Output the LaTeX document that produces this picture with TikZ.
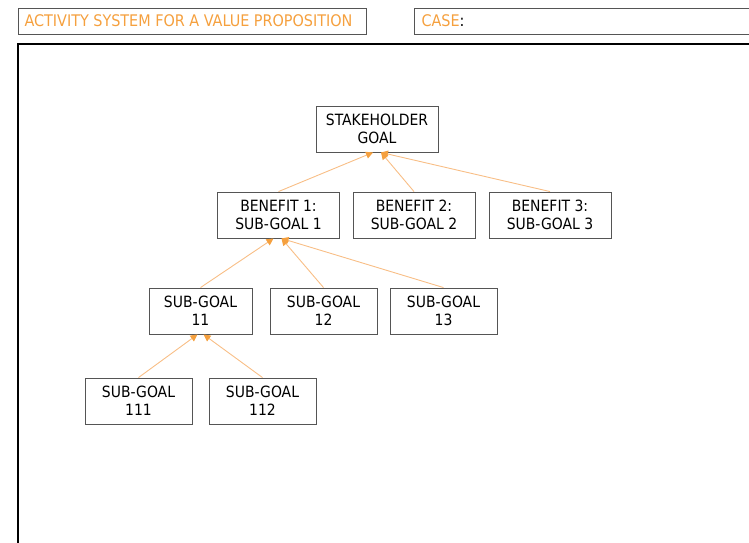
\documentclass[tikz,border=0pt]{standalone}
\usepackage{fontspec}
\setmainfont{DejaVu Sans Condensed}
\usetikzlibrary{arrows.meta}

\definecolor{goalorange}{HTML}{F5A03E}
\definecolor{linkorange}{HTML}{F8BE86}
\definecolor{boxgray}{HTML}{555555}

\tikzset{
  goalbox/.style={draw=boxgray, line width=0.9pt, align=center, inner sep=0pt,
    minimum width=107pt, minimum height=46pt, font=\fontsize{15.5}{18}\selectfont},
  benefitbox/.style={goalbox, minimum width=122pt},
  link/.style={draw=linkorange, line width=0.9pt,
    -{Triangle[length=7pt,width=7pt,color=goalorange]}},
}

\begin{document}
\begin{tikzpicture}[x=1pt,y=-1pt]
\useasboundingbox (0,0) rectangle (749,542);

% header fields and the frame below them
\draw[boxgray, line width=0.9pt] (18,8) rectangle (366,34);
\draw[boxgray, line width=0.9pt] (414,8) rectangle (760,34);
\node[anchor=west, text=goalorange, font=\fontsize{16}{18}\selectfont] (title) at (21,21)
  {ACTIVITY SYSTEM FOR A VALUE PROPOSITION};
\node[anchor=west, font=\fontsize{16}{18}\selectfont] (case) at (418,21)
  {\textcolor{goalorange}{CASE}:};
\draw[black, line width=1.8pt] (18,560) -- (18,44) -- (760,44);

% goal tree
\node[benefitbox] (goal) at (377,129) {STAKEHOLDER\\GOAL};

\node[benefitbox] (ben1) at (278.5,215) {BENEFIT 1:\\SUB-GOAL 1};
\node[benefitbox] (ben2) at (414,215) {BENEFIT 2:\\SUB-GOAL 2};
\node[benefitbox] (ben3) at (550,215) {BENEFIT 3:\\SUB-GOAL 3};

\node[goalbox, minimum width=103pt] (sg11) at (200.5,311) {SUB-GOAL\\11};
\node[goalbox] (sg12) at (323.5,311) {SUB-GOAL\\12};
\node[goalbox] (sg13) at (443.5,311) {SUB-GOAL\\13};

\node[goalbox] (sg111) at (138.5,401) {SUB-GOAL\\111};
\node[goalbox] (sg112) at (262.5,401) {SUB-GOAL\\112};

% links point up to the parent goal
\draw[link] (ben1.north) -- ([xshift=-4pt]goal.south);
\draw[link] (ben2.north) -- ([xshift=4pt]goal.south);
\draw[link] (ben3.north) -- ([xshift=4pt]goal.south);

\draw[link] (sg11.north) -- ([xshift=-5pt]ben1.south);
\draw[link] (sg12.north) -- ([xshift=3pt]ben1.south);
\draw[link] (sg13.north) -- ([xshift=3pt]ben1.south);

\draw[link] (sg111.north) -- ([xshift=-3pt]sg11.south);
\draw[link] (sg112.north) -- ([xshift=3pt]sg11.south);
\end{tikzpicture}
\end{document}
